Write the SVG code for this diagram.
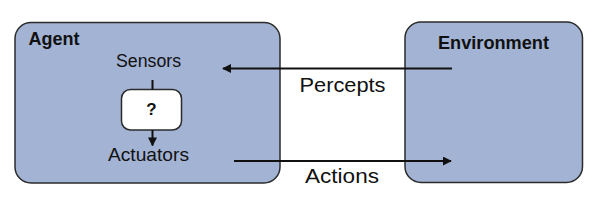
<svg xmlns="http://www.w3.org/2000/svg" width="596" height="205" viewBox="0 0 596 205">
  <style>
    .box { fill: #a3b3d3; stroke: #2b2b2b; stroke-width: 1.5; }
    .qbox { fill: #ffffff; stroke: #2b2b2b; stroke-width: 1.5; }
    .t { font-family: "Liberation Sans", Arial, sans-serif; fill: #111111; }
    .b { font-weight: bold; }
    .conn { stroke: #111111; stroke-width: 2; fill: none; }
  </style>
  <defs>
    <marker id="ah" viewBox="0 0 10 10" refX="9" refY="5" markerWidth="4.5" markerHeight="4.5" orient="auto" markerUnits="strokeWidth">
      <path d="M0,0 L10,5 L0,10 z" fill="#111111"/>
    </marker>
  </defs>
  <g id="agent">
    <rect class="box" x="15" y="22.5" width="265" height="160.5" rx="16" ry="16"/>
    <text class="t b" x="28.5" y="45" font-size="17.5" textLength="51" lengthAdjust="spacingAndGlyphs">Agent</text>
  </g>
  <g id="sensors">
    <text class="t" x="148.5" y="67" font-size="17.5" text-anchor="middle" textLength="65" lengthAdjust="spacingAndGlyphs">Sensors</text>
  </g>
  <g id="decision">
    <rect class="qbox" x="121.5" y="89.5" width="60" height="40.5" rx="9" ry="9"/>
    <text class="t b" x="151.5" y="115" font-size="17" text-anchor="middle">?</text>
  </g>
  <g id="actuators">
    <text class="t" x="148.5" y="160.5" font-size="18.5" text-anchor="middle" textLength="81" lengthAdjust="spacingAndGlyphs">Actuators</text>
  </g>
  <g id="environment">
    <rect class="box" x="405" y="22" width="177.5" height="160.5" rx="16" ry="16"/>
    <text class="t b" x="493.5" y="48.5" font-size="17.5" text-anchor="middle" textLength="111" lengthAdjust="spacingAndGlyphs">Environment</text>
  </g>
  <g id="connectors">
    <line class="conn" x1="152.5" y1="80" x2="152.5" y2="89.5"/>
    <line class="conn" x1="152.5" y1="130" x2="152.5" y2="145.5" marker-end="url(#ah)"/>
    <line class="conn" x1="452" y1="68.5" x2="223" y2="68.5" marker-end="url(#ah)"/>
    <line class="conn" x1="234" y1="161" x2="451" y2="161" marker-end="url(#ah)"/>
    <text class="t" x="342.5" y="92" font-size="21" text-anchor="middle" textLength="86" lengthAdjust="spacingAndGlyphs">Percepts</text>
    <text class="t" x="342" y="183" font-size="21" text-anchor="middle" textLength="74" lengthAdjust="spacingAndGlyphs">Actions</text>
  </g>
</svg>
